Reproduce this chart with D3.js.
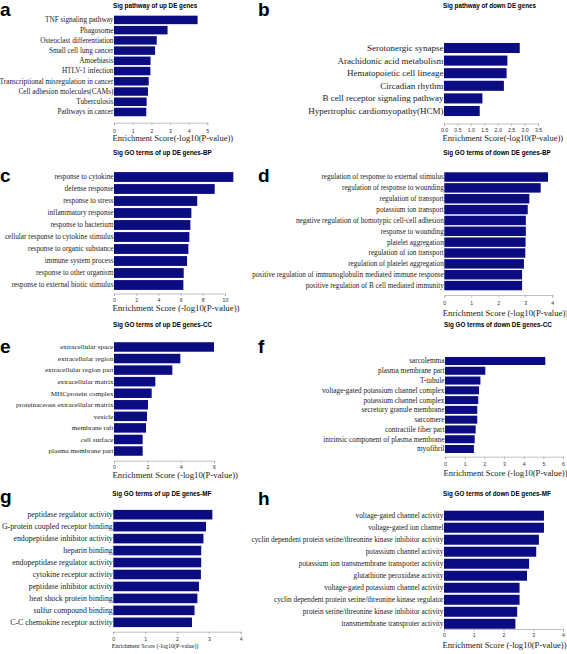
<!DOCTYPE html>
<html><head><meta charset="utf-8">
<script src="https://cdn.jsdelivr.net/npm/d3@7"></script>
<style>body{margin:0;background:#fff}svg{display:block}</style>
</head><body><svg id="c" width="567" height="654"></svg>
<script>
// ---- data ----
const aTitle = "Sig pathway of up DE genes";
const aCats = ["TNF signaling pathway","Phagosome","Osteoclast differentiation","Small cell lung cancer","Amoebiasis","HTLV-1 infection","Transcriptional misregulation in cancer","Cell adhesion molecules(CAMs)","Tuberculosis","Pathways in cancer"];
const aVals = [4.48,2.87,2.29,2.2,1.96,1.95,1.86,1.82,1.75,1.73];
const aTicks = [0,1,2,3,4,5];

const bTitle = "Sig pathway of down DE genes";
const bCats = ["Serotonergic synapse","Arachidonic acid metabolism","Hematopoietic cell lineage","Circadian rhythm","B cell receptor signaling pathway","Hypertrophic cardiomyopathy(HCM)"];
const bVals = [2.82,2.36,2.33,2.23,1.43,1.33];
const bTicks = [0,0.5,1,1.5,2,2.5,3,3.5];

const cTitle = "Sig GO terms of up DE genes-BP";
const cCats = ["response to cytokine","defense response","response to stress","inflammatory response","response to bacterium","cellular response to cytokine stimulus","response to organic substance","immune system process","response to other organism","response to external biotic stimulus"];
const cVals = [10.75,9.07,7.5,6.97,6.88,6.79,6.7,6.58,6.28,6.25];
const cTicks = [0,2,4,6,8,10];

const dTitle = "Sig GO terms of down DE genes-BP";
const dCats = ["regulation of response to external stimulus","regulation of response to wounding","regulation of transport","potassium ion transport","negative regulation of homotypic cell-cell adhesion","response to wounding","platelet aggregation","regulation of ion transport","regulation of platelet aggregation","positive regulation of immunoglobulin mediated immune response","positive regulation of B cell mediated immunity"];
const dVals = [3.84,3.57,3.15,3.09,3.02,3.02,3.01,3.0,2.95,2.88,2.88];
const dTicks = [0,1,2,3,4];

const eTitle = "Sig GO terms of up DE genes-CC";
const eCats = ["extracellular space","extracellular region","extracellular region part","extracellular matrix","MHCprotein complex","proteinaceous extracellular matrix","vesicle","membrane raft","cell surface","plasma membrane part"];
const eVals = [6.0,3.98,3.5,2.48,2.26,2.04,1.98,1.92,1.72,1.72];
const eTicks = [0,2,4,6];

const fTitle = "Sig GO terms of down DE genes-CC";
const fCats = ["sarcolemma","plasma membrane part","T-tubule","voltage-gated potassium channel complex","potassium channel complex","secretory granule membrane","sarcomere","contractile fiber part","intrinsic component of plasma membrane","myofibril"];
const fVals = [5.1,2.05,1.8,1.73,1.69,1.64,1.64,1.56,1.51,1.47];
const fTicks = [0,1,2,3,4,5,6];

const gTitle = "Sig GO terms of up DE genes-MF";
const gCats = ["peptidase regulator activity","G-protein coupled receptor binding","endopeptidase inhibitor activity","heparin binding","endopeptidase regulator activity","cytokine receptor activity","peptidase inhibitor activity","heat shock protein binding","sulfur compound binding","C-C chemokine receptor activity"];
const gVals = [3.11,2.91,2.83,2.76,2.76,2.75,2.69,2.64,2.55,2.47];
const gTicks = [0,1,2,3,4];

const hTitle = "Sig GO terms of down DE genes-MF";
const hCats = ["voltage-gated channel activity","voltage-gated ion channel","cyclin dependent protein serine/threonine kinase inhibitor activity","potassium channel activity","potassium ion transmembrane transporter activity","glutathione peroxidase activity","voltage-gated potassium channel activity","cyclin dependent protein serine/threonine kinase regulator","protein serine/threonine kinase inhibitor activity","transmembrane transproter activity"];
const hVals = [3.36,3.36,3.19,3.10,2.86,2.79,2.54,2.54,2.46,2.40];
const hTicks = [0,1,2,3,4];

const axisLabel = "Enrichment Score (-log10(P-value))";
const axisLabelA = "Enrichment Score(-log10(P-value))";

// ---- layout ----
const panels = [
 {L:"a",lx:0,ly:15.5,title:aTitle,ty:7.8,cats:aCats,vals:aVals,ticks:aTicks,fmt:d3.format("d"),x0:114,x1:207.3,y0:14.8,y1:117.1,pad:0.17,ax:122.7,tl:132.5,at:140.5,atS:8.5,atT:axisLabelA,lS:7.25},
 {L:"b",lx:258,ly:16,title:bTitle,ty:7.8,cats:bCats,vals:bVals,ticks:bTicks,fmt:d3.format(".1f"),x0:444,x1:538,y0:41.7,y1:117.3,pad:0.2,ax:123.5,tl:132,at:140.5,atS:8.5,atT:axisLabelA,lS:9.0},
 {L:"c",lx:0,ly:182,title:cTitle,ty:154.8,cats:cCats,vals:cVals,ticks:cTicks,fmt:d3.format("d"),x0:114,x1:225,y0:171,y1:291,pad:0.18,ax:293.5,tl:302.3,at:310.5,atS:8.8,atT:axisLabel,lS:7.2},
 {L:"d",lx:258,ly:182,title:dTitle,ty:154.8,cats:dCats,vals:dVals,ticks:dTicks,fmt:d3.format("d"),x0:444.3,x1:552.3,y0:171.6,y1:291,pad:0.13,ax:295,tl:305,at:316,atS:8.7,atT:axisLabel,lS:7.2},
 {L:"e",lx:0,ly:353,title:eTitle,ty:326.8,cats:eCats,vals:eVals,ticks:eTicks,fmt:d3.format("d"),x0:114,x1:214,y0:341.2,y1:456.8,pad:0.18,ax:460.7,tl:468.7,at:477.5,atS:8.7,atT:axisLabel,lS:7.15},
 {L:"f",lx:258,ly:353,title:fTitle,ty:326.8,cats:fCats,vals:fVals,ticks:fTicks,fmt:d3.format("d"),x0:445,x1:563,y0:356.1,y1:453.9,pad:0.18,ax:456.7,tl:466.3,at:476,atS:8.6,atT:axisLabel,lS:7.3},
 {L:"g",lx:0,ly:503,title:gTitle,ty:495.8,cats:gCats,vals:gVals,ticks:gTicks,fmt:d3.format("d"),x0:113.3,x1:240.7,y0:508.7,y1:628.3,pad:0.2,ax:631.7,tl:641,at:647.5,atS:6,atT:axisLabel,lS:7.85},
 {L:"h",lx:258,ly:505,title:hTitle,ty:495.8,cats:hCats,vals:hVals,ticks:hTicks,fmt:d3.format("d"),x0:444,x1:563,y0:509.7,y1:629.8,pad:0.17,ax:629,tl:637,at:648,atS:8.6,atT:axisLabel,lS:7.3}
];

const svg = d3.select("#c");
const serif = "'Liberation Serif','Times New Roman',serif";
const sans = "'Liberation Sans',Arial,sans-serif";

panels.forEach(p => {
  const g = svg.append("g");
  const tmax = p.ticks[p.ticks.length-1];
  const x = d3.scaleLinear().domain([0, tmax]).range([p.x0, p.x1]);
  const y = d3.scaleBand().domain(p.cats).range([p.y0, p.y1]).paddingInner(p.pad).paddingOuter(p.pad/2);

  g.append("text").attr("x", p.lx).attr("y", p.ly).text(p.L)
    .attr("font-family", sans).attr("font-weight", "bold").attr("font-size", 19).attr("fill", "#000");

  g.append("text").attr("x", p.x0 - 1).attr("y", p.ty).text(p.title)
    .attr("font-family", sans).attr("font-weight", "bold").attr("font-size", 6.3).attr("fill", "#000");

  g.selectAll("rect.bar").data(p.vals).join("rect").attr("class","bar")
    .attr("x", x(0)).attr("y", (d,i) => y(p.cats[i]))
    .attr("width", d => x(d) - x(0)).attr("height", y.bandwidth())
    .attr("fill", "#0b0b82");

  g.selectAll("text.lab").data(p.cats).join("text").attr("class","lab")
    .attr("x", p.x0 - 0.5).attr("y", d => y(d) + y.bandwidth()/2 + p.lS*0.33)
    .attr("text-anchor", "end").attr("font-family", serif).attr("font-size", p.lS)
    .attr("fill", "#222").text(d => d);

  const axis = d3.axisBottom(x).tickValues(p.ticks).tickFormat(p.fmt).tickSize(2.5).tickPadding(2);
  const ag = g.append("g").attr("transform", `translate(0,${p.ax})`).call(axis);
  ag.select(".domain").attr("stroke", "#999").attr("stroke-width", 0.6);
  ag.selectAll(".tick line").attr("stroke", "#999").attr("stroke-width", 0.6);
  ag.selectAll(".tick text").attr("font-family", sans).attr("font-size", 5.2).attr("fill", "#333")
    .attr("y", null).attr("dy", null).attr("transform", `translate(0,${p.tl - p.ax})`);

  g.append("text").attr("x", p.x0 - 1.5).attr("y", p.at).text(p.atT)
    .attr("font-family", serif).attr("font-size", p.atS).attr("fill", "#222");
});
</script></body></html>
